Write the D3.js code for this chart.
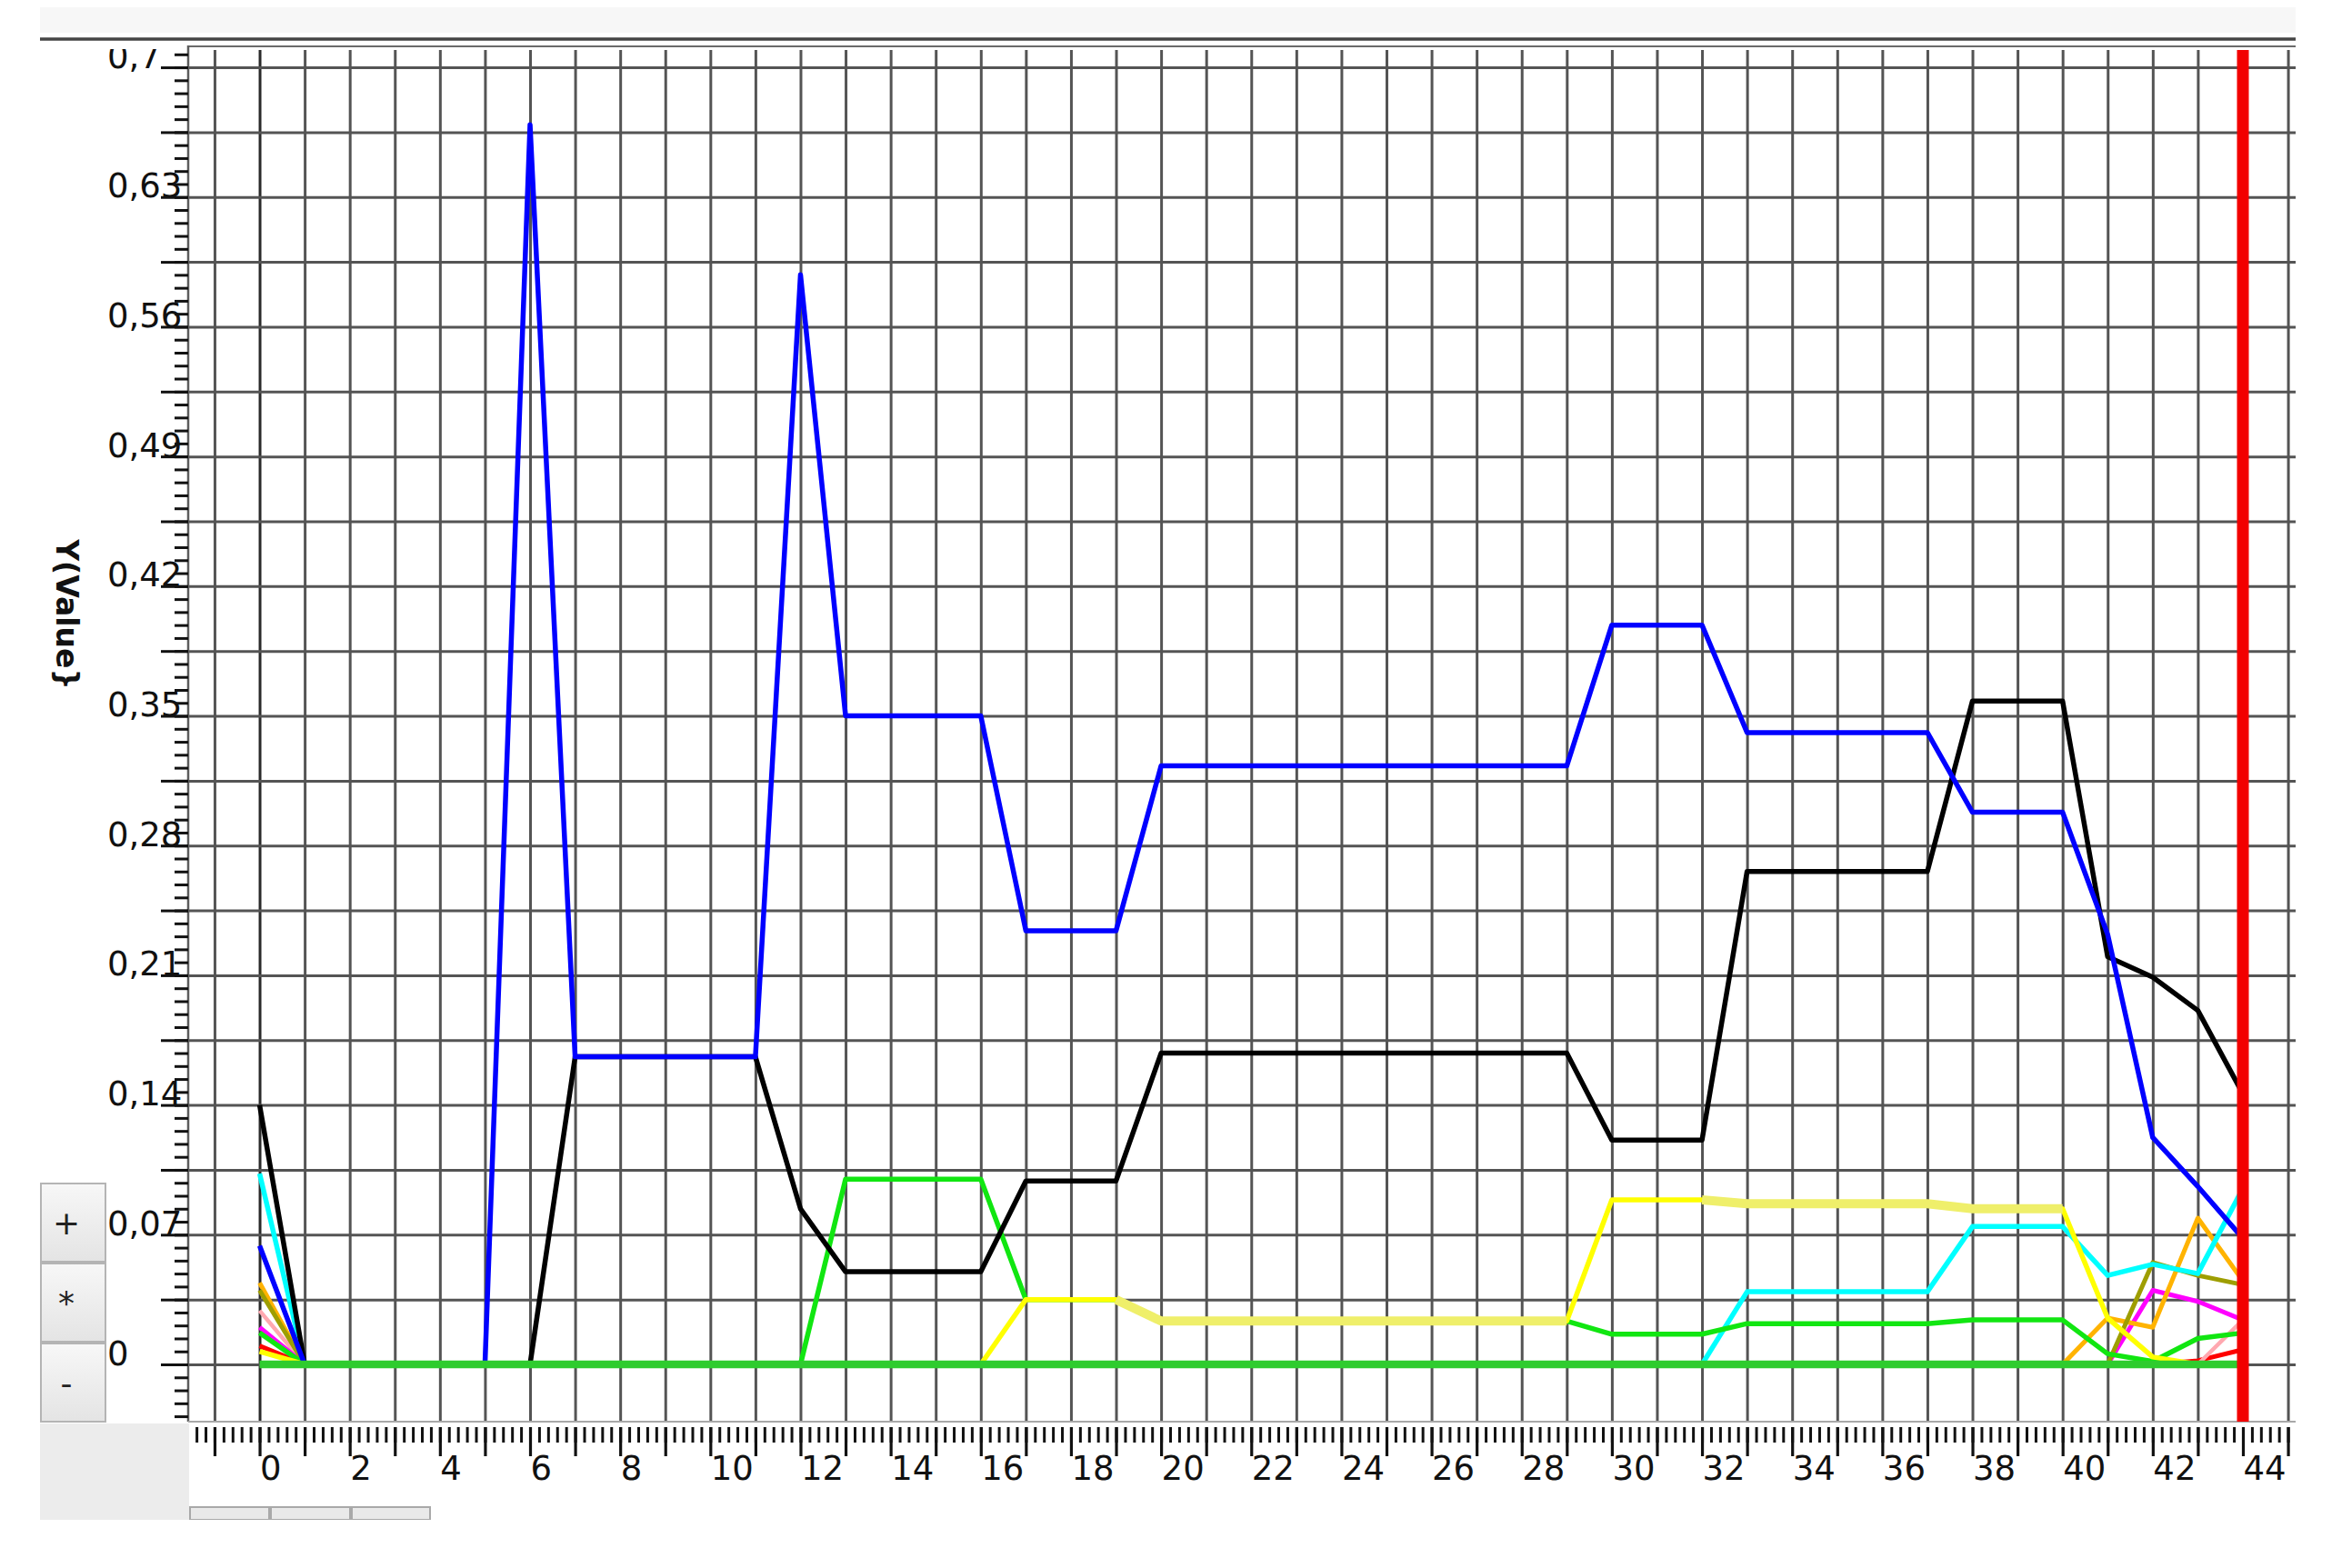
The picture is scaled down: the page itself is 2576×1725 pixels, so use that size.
<!DOCTYPE html>
<html><head><meta charset="utf-8">
<script src="https://cdn.jsdelivr.net/npm/d3@7/dist/d3.min.js"></script>
<style>html,body{margin:0;padding:0;background:#fff}svg{display:block}</style>
</head><body>
<svg id="chart" width="2576" height="1725"></svg>
<script>
// ---------------- data ----------------
const xValues = [0,1,2,3,4,5,6,7,8,9,10,11,12,13,14,15,16,17,18,19,20,21,22,23,24,25,26,27,28,29,30,31,32,33,34,35,36,37,38,39,40,41,42,43,44];

const blueValues = [0.064,0,0,0,0,0,0.669,0.166,0.166,0.166,0.166,0.166,0.588,0.350,0.350,0.350,0.350,0.234,0.234,0.234,
  0.323,0.323,0.323,0.323,0.323,0.323,0.323,0.323,0.323,0.323,0.399,0.399,0.399,0.341,0.341,0.341,0.341,0.341,
  0.298,0.298,0.298,0.232,0.1225,0.096,0.068];
const blackValues = [0.140,0,0,0,0,0,0,0.166,0.166,0.166,0.166,0.166,0.084,0.050,0.050,0.050,0.050,0.099,0.099,0.099,
  0.168,0.168,0.168,0.168,0.168,0.168,0.168,0.168,0.168,0.168,0.121,0.121,0.121,0.266,0.266,0.266,0.266,0.266,
  0.358,0.358,0.358,0.220,0.209,0.191,0.146];
const greenValues = [0.017,0,0,0,0,0,0,0,0,0,0,0,0,0.100,0.100,0.100,0.100,0.035,0.035,0.035,
  0.0234,0.0234,0.0234,0.0234,0.0234,0.0234,0.0234,0.0234,0.0234,0.0234,0.0163,0.0163,0.0163,0.022,0.022,0.022,0.022,0.022,
  0.024,0.024,0.024,0.0057,0.0016,0.014,0.017];
const yellowValues = [0.007,0,0,0,0,0,0,0,0,0,0,0,0,0,0,0,0,0.035,0.035,0.035,
  0.0234,0.0234,0.0234,0.0234,0.0234,0.0234,0.0234,0.0234,0.0234,0.0234,0.0888,0.0888,0.0888,0.0867,0.0867,0.0867,0.0867,0.0867,
  0.084,0.084,0.084,0.025,0.004,0,0];
const paleYellowValues = [null,null,null,null,null,null,null,null,null,null,null,null,null,null,null,null,null,null,null,0.035,
  0.0234,0.0234,0.0234,0.0234,0.0234,0.0234,0.0234,0.0234,0.0234,0.0234,null,null,0.0888,0.0867,0.0867,0.0867,0.0867,0.0867,
  0.084,0.084,0.084,null,null,null,null];
const cyanValues = [0.103,0,0,0,0,0,0,0,0,0,0,0,0,0,0,0,0,0,0,0,0,0,0,0,0,0,0,0,0,0,0,0,0,
  0.0392,0.0392,0.0392,0.0392,0.0392,0.0744,0.0744,0.0744,0.048,0.054,0.049,0.095];
const oliveValues = [0.040,0,0,0,0,0,0,0,0,0,0,0,0,0,0,0,0,0,0,0,0,0,0,0,0,0,0,0,0,0,0,0,0,0,0,0,0,0,0,0,0,0,0.055,0.048,0.043];
const orangeValues = [0.044,0,0,0,0,0,0,0,0,0,0,0,0,0,0,0,0,0,0,0,0,0,0,0,0,0,0,0,0,0,0,0,0,0,0,0,0,0,0,0,0,0.025,0.020,0.079,0.045];
const magentaValues = [0.020,0,0,0,0,0,0,0,0,0,0,0,0,0,0,0,0,0,0,0,0,0,0,0,0,0,0,0,0,0,0,0,0,0,0,0,0,0,0,0,0,0,0.040,0.034,0.024];
const pinkValues = [0.029,0,0,0,0,0,0,0,0,0,0,0,0,0,0,0,0,0,0,0,0,0,0,0,0,0,0,0,0,0,0,0,0,0,0,0,0,0,0,0,0,0,0,0,0.024];
const redValues = [0.010,0,0,0,0,0,0,0,0,0,0,0,0,0,0,0,0,0,0,0,0,0,0,0,0,0,0,0,0,0,0,0,0,0,0,0,0,0,0,0,0,0,0,0.002,0.008];
const baseValues = [0,0,0,0,0,0,0,0,0,0,0,0,0,0,0,0,0,0,0,0,0,0,0,0,0,0,0,0,0,0,0,0,0,0,0,0,0,0,0,0,0,0,0,0,0];

const markerX = 44;

const yLabelValues = [0,0.07,0.14,0.21,0.28,0.35,0.42,0.49,0.56,0.63,0.7];
const yTickLabels  = ["0","0,07","0,14","0,21","0,28","0,35","0,42","0,49","0,56","0,63","0,7"];
const xLabelValues = [0,2,4,6,8,10,12,14,16,18,20,22,24,26,28,30,32,34,36,38,40,42,44];
const xTickLabels  = ["0","2","4","6","8","10","12","14","16","18","20","22","24","26","28","30","32","34","36","38","40","42","44"];
const yTitle = "Y(Value}";
const buttonLabels = ["+","*","-"];

// series: drawn in this order
const series = [
  {name:"red", values:redValues, color:"#ff0000", width:5},
  {name:"pink", values:pinkValues, color:"#ffa8b0", width:4.5},
  {name:"magenta", values:magentaValues, color:"#ff00ff", width:5},
  {name:"orange", values:orangeValues, color:"#ffb300", width:5},
  {name:"olive", values:oliveValues, color:"#9e9e00", width:5},
  {name:"cyan", values:cyanValues, color:"#00ffff", width:5.5},
  {name:"green", values:greenValues, color:"#11e611", width:5.5},
  {name:"yellow", values:yellowValues, color:"#ffff00", width:5.5},
  {name:"paleYellow", values:paleYellowValues, color:"#efef6a", width:10},
  {name:"black", values:blackValues, color:"#000000", width:5.5},
  {name:"blue", values:blueValues, color:"#0000ff", width:5.5},
  {name:"base", values:baseValues, color:"#2ecc2e", width:8.5}
];

// ---------------- layout ----------------
const plotL = 207, plotR = 2525, plotT = 50, plotB = 1564;
const svg = d3.select("#chart");
const x = d3.scaleLinear().domain([-1.584, 45.17]).range([plotL, plotR]);
const y = d3.scaleLinear().domain([-0.0309, 0.7118]).range([plotB, plotT]);

// header bar
svg.append("rect").attr("x",44).attr("y",8).attr("width",plotR-44).attr("height",28).attr("fill","#f7f7f7");
svg.append("line").attr("x1",44).attr("x2",plotR).attr("y1",43).attr("y2",43).attr("stroke","#454545").attr("stroke-width",3.5);
svg.append("line").attr("x1",plotL).attr("x2",plotR).attr("y1",51).attr("y2",51).attr("stroke","#6a6a6a").attr("stroke-width",2.2);

// grid
const gridX = d3.range(-1, 46);
const gridY = d3.range(0, 21).map(i => +(i*0.035).toFixed(3));
svg.append("g").attr("transform",`translate(0,${plotB})`)
  .call(d3.axisBottom(x).tickValues(gridX).tickSize(-(plotB-55)).tickFormat(""))
  .call(g => g.select(".domain").remove())
  .call(g => g.selectAll("line").attr("stroke", d => d===0 ? "#2a2a2a" : "#545454").attr("stroke-width",3));
svg.append("g").attr("transform",`translate(${plotL},0)`)
  .call(d3.axisLeft(y).tickValues(gridY).tickSize(-(plotR-plotL)).tickFormat(""))
  .call(g => g.select(".domain").remove())
  .call(g => g.selectAll("line").attr("stroke","#545454").attr("stroke-width",3));

// plot borders
svg.append("line").attr("x1",plotL).attr("x2",plotL).attr("y1",plotT).attr("y2",plotB).attr("stroke","#5c5c5c").attr("stroke-width",2.5);
svg.append("line").attr("x1",plotL).attr("x2",plotR).attr("y1",plotB).attr("y2",plotB).attr("stroke","#a8a8a8").attr("stroke-width",2);

// y labels (behind ticks), clipped under header
svg.append("clipPath").attr("id","labclip").append("rect").attr("x",0).attr("y",54).attr("width",plotL).attr("height",plotB-54);
svg.append("g").attr("clip-path","url(#labclip)").append("g").attr("transform",`translate(${plotL},0)`)
  .call(d3.axisLeft(y).tickValues(yLabelValues).tickSize(0).tickFormat((d,i)=>yTickLabels[i]))
  .call(g => g.select(".domain").remove())
  .call(g => g.selectAll("text").attr("x",-89).attr("dy","0").attr("text-anchor","start")
      .attr("font-family","'DejaVu Sans', sans-serif").attr("font-size",37).attr("fill","#111"));

// y ticks
const yMinor = d3.range(-4, 102).map(i => +(i*0.007).toFixed(3));
svg.append("g").attr("transform",`translate(${plotL},0)`)
  .call(d3.axisLeft(y).tickValues(yMinor).tickSize(15).tickFormat(""))
  .call(g => g.select(".domain").remove())
  .call(g => g.selectAll("line").attr("stroke","#111").attr("stroke-width",3));
svg.append("g").attr("transform",`translate(${plotL},0)`)
  .call(d3.axisLeft(y).tickValues(gridY).tickSize(30).tickFormat(""))
  .call(g => g.select(".domain").remove())
  .call(g => g.selectAll("line").attr("stroke","#111").attr("stroke-width",3));

// x ticks
const xMinor = d3.range(-7, 226).map(i => +(i*0.2).toFixed(2));
svg.append("g").attr("transform",`translate(0,1570)`)
  .call(d3.axisBottom(x).tickValues(xMinor).tickSize(17).tickFormat(""))
  .call(g => g.select(".domain").remove())
  .call(g => g.selectAll("line").attr("stroke","#111").attr("stroke-width",3));
svg.append("g").attr("transform",`translate(0,1570)`)
  .call(d3.axisBottom(x).tickValues(gridX).tickSize(32).tickFormat(""))
  .call(g => g.select(".domain").remove())
  .call(g => g.selectAll("line").attr("stroke","#111").attr("stroke-width",3.2));
// x labels
svg.append("g").attr("transform",`translate(0,1570)`)
  .call(d3.axisBottom(x).tickValues(xLabelValues).tickSize(0).tickFormat((d,i)=>xTickLabels[i]))
  .call(g => g.select(".domain").remove())
  .call(g => g.selectAll("text").attr("y",58).attr("dy","0").attr("text-anchor","start")
      .attr("font-family","'DejaVu Sans', sans-serif").attr("font-size",37).attr("fill","#111"));

// series lines
const line = d3.line().defined(d => d !== null).x((d,i) => x(xValues[i])).y(d => y(d));
const plot = svg.append("g");
plot.append("clipPath").attr("id","clip").append("rect").attr("x",plotL).attr("y",plotT).attr("width",plotR-plotL).attr("height",plotB-plotT);
const lines = plot.append("g").attr("clip-path","url(#clip)");
series.forEach(s => {
  lines.append("path").datum(s.values).attr("d", line)
    .attr("fill","none").attr("stroke", s.color).attr("stroke-width", s.width)
    .attr("stroke-linejoin","round").attr("stroke-linecap","butt");
});

// red marker line
svg.append("line").attr("x1",x(markerX)).attr("x2",x(markerX)).attr("y1",55).attr("y2",plotB)
  .attr("stroke","#f20000").attr("stroke-width",13);

// y title
svg.append("text").attr("transform","translate(62,676) rotate(90)").attr("text-anchor","middle")
  .attr("font-family","'DejaVu Sans', sans-serif").attr("font-weight","bold").attr("font-size",33).attr("fill","#111")
  .text(yTitle);

// left buttons
const defs = svg.append("defs");
const grad = defs.append("linearGradient").attr("id","btn").attr("x1",0).attr("y1",0).attr("x2",0).attr("y2",1);
grad.append("stop").attr("offset","0%").attr("stop-color","#f7f7f7");
grad.append("stop").attr("offset","100%").attr("stop-color","#e4e4e4");
const btnTops = [1302, 1390, 1478];
buttonLabels.forEach((lab, i) => {
  svg.append("rect").attr("x",45).attr("y",btnTops[i]).attr("width",71).attr("height",86)
    .attr("fill","url(#btn)").attr("stroke","#b4b4b4").attr("stroke-width",2);
  svg.append("text").attr("x",73).attr("y",btnTops[i]+56).attr("text-anchor","middle")
    .attr("font-family","'DejaVu Sans', sans-serif").attr("font-size",36).attr("fill","#222").text(lab);
});
// grey corner box and tabs
svg.append("rect").attr("x",44).attr("y",1566).attr("width",164).attr("height",106).attr("fill","#ececec");
[[209,87],[298,87],[387,86]].forEach(t => {
  svg.append("rect").attr("x",t[0]).attr("y",1658).attr("width",t[1]).attr("height",14)
    .attr("fill","#e9e9e9").attr("stroke","#a9a9a9").attr("stroke-width",2);
});
svg.append("rect").attr("x",0).attr("y",1672).attr("width",2576).attr("height",53).attr("fill","#fff");
</script>
</body></html>
